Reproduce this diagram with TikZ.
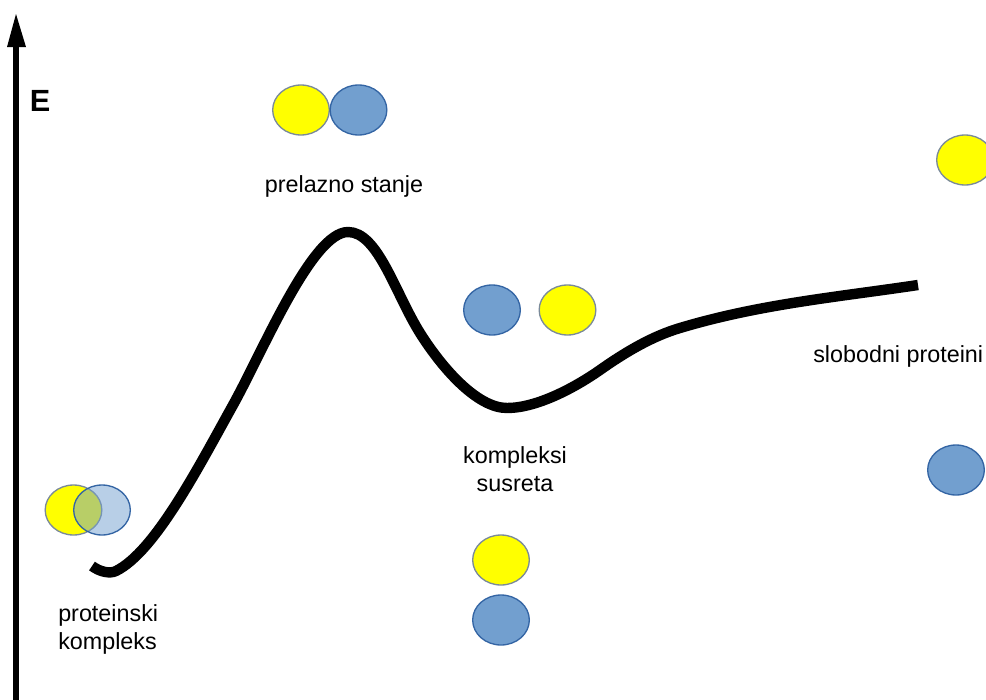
\documentclass[tikz,border=0pt]{standalone}
\usepackage{fontspec}
\setmainfont{Liberation Sans}
\usetikzlibrary{shapes.geometric}
\definecolor{pyel}{HTML}{FFFF00}
\definecolor{pblue}{HTML}{729FCF}
\definecolor{pblueline}{HTML}{3465A4}
\definecolor{pyelline}{HTML}{7A8A9A}
\tikzset{
  prot/.style={ellipse, inner sep=0pt, minimum width=42.5pt, minimum height=37.5pt, line width=1pt},
  yel/.style={prot, fill=pyel, draw=pyelline},
  blu/.style={prot, fill=pblue, draw=pblueline},
  lbl/.style={inner sep=0pt, font=\fontsize{17.5}{21}\selectfont},
  energy/.style={line width=7.8pt, line cap=butt, line join=round},
}
\begin{document}
\begin{tikzpicture}[x=0.75pt,y=-0.75pt]
\useasboundingbox (0,0) rectangle (986,700);
\clip (0,0) rectangle (986,700);
% axis
\coordinate (axbot) at (16,702);
\coordinate (axtop) at (16,46);
\draw[line width=4.5pt] (axbot) -- (axtop);
\fill (7,47) -- (16,14) -- (26,47) -- cycle;
\node[font=\fontsize{23}{26}\selectfont\bfseries, inner sep=0pt] (E) at (40,101) {E};
% energy curve
\coordinate (p0) at (92,566);
\coordinate (p1) at (116,571);
\coordinate (p2) at (233,405);
\coordinate (p3) at (348,232);
\coordinate (p4) at (420,333);
\coordinate (p5) at (507,408);
\coordinate (p6) at (600,370);
\coordinate (p7) at (680,328);
\coordinate (p8) at (918,285);
\draw[energy] (p0) .. controls (100,572) and (110,574) .. (p1)
  .. controls (155,551.5) and (198,468) .. (p2)
  .. controls (263,351) and (312,232) .. (p3)
  .. controls (378,232) and (395,293) .. (p4)
  .. controls (442,368) and (477,408) .. (p5)
  .. controls (537,408) and (575,387.5) .. (p6)
  .. controls (627,351) and (653,336) .. (p7)
  .. controls (760,304) and (838,297) .. (p8);
% proteins
\node[yel] (y1) at (301,110) {};
\node[blu] (b1) at (358.5,110) {};
\node[blu] (b2) at (492,310) {};
\node[yel] (y2) at (567.5,310) {};
\node[yel] (y3) at (965,160) {};
\node[blu] (b3) at (956,470) {};
\node[yel] (y4) at (501,560) {};
\node[blu] (b4) at (501,620) {};
\node[yel] (y5) at (73.5,510) {};
\node[blu, fill opacity=0.5] (b5) at (102,510) {};
% labels
\node[lbl] (ts) at (344,186) {prelazno stanje};
\node[lbl, align=center] (ks) at (515,469) {kompleksi\\susreta};
\node[lbl, align=left, anchor=west] (pk) at (58,629) {proteinski\\kompleks};
\node[lbl, anchor=west] (sp) at (813,356) {slobodni proteini};
\end{tikzpicture}
\end{document}
